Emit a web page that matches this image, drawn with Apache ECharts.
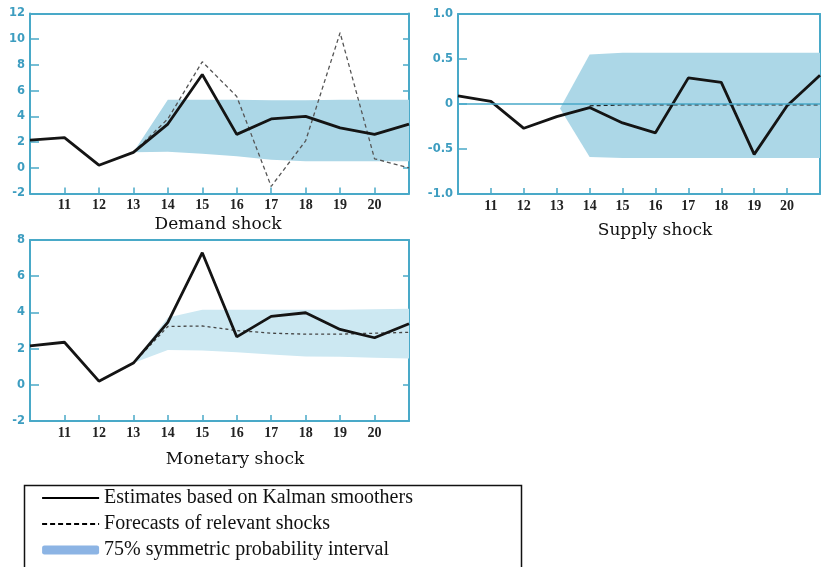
<!DOCTYPE html>
<html>
<head>
<meta charset="utf-8">
<script src="https://cdn.jsdelivr.net/npm/echarts@6/dist/echarts.min.js"></script>
<style>html,body{margin:0;padding:0;background:#fff}#c{width:823px;height:567px}</style>
</head>
<body>
<div id="c"></div>
<script>
// ---- data ----
const periods = [10, 11, 12, 13, 14, 15, 16, 17, 18, 19, 20, 21];
const xTickLabels = ['11', '12', '13', '14', '15', '16', '17', '18', '19', '20'];

const demandEstimate = [2.15, 2.35, 0.2, 1.2, 3.4, 7.25, 2.6, 3.8, 4.0, 3.1, 2.6, 3.4];
const demandForecastX = [13, 14, 15, 16, 17, 18, 19, 20, 21];
const demandForecast = [1.2, 3.8, 8.25, 5.55, -1.45, 2.1, 10.5, 0.7, 0.0];
const demandBandX = [13, 14, 15, 16, 17, 18, 19, 20, 21];
const demandBandLow = [1.2, 1.25, 1.1, 0.9, 0.62, 0.5, 0.5, 0.5, 0.5];
const demandBandHigh = [1.2, 5.3, 5.3, 5.3, 5.25, 5.25, 5.3, 5.3, 5.3];

const supplyEstimate = [0.09, 0.03, -0.27, -0.14, -0.04, -0.21, -0.32, 0.29, 0.24, -0.56, -0.02, 0.32];
const supplyForecastX = [14, 15, 16, 17, 18, 19, 20, 21];
const supplyForecast = [-0.02, -0.01, -0.01, -0.01, -0.01, -0.01, -0.01, -0.01];
const supplyBandX = [13.1, 14, 15, 16, 17, 18, 19, 20, 21];
const supplyBandLow = [-0.05, -0.59, -0.6, -0.6, -0.6, -0.6, -0.6, -0.6, -0.6];
const supplyBandHigh = [-0.05, 0.55, 0.57, 0.57, 0.57, 0.57, 0.57, 0.57, 0.57];

const monetaryEstimate = [2.15, 2.35, 0.2, 1.2, 3.45, 7.3, 2.65, 3.78, 3.98, 3.06, 2.6, 3.37];
const monetaryForecastX = [13, 14, 15, 16, 17, 18, 19, 20, 21];
const monetaryForecast = [1.2, 3.22, 3.25, 3.0, 2.85, 2.8, 2.8, 2.85, 2.9];
const monetaryBandX = [13, 14, 15, 16, 17, 18, 19, 20, 21];
const monetaryBandLow = [1.2, 1.92, 1.9, 1.8, 1.68, 1.57, 1.55, 1.5, 1.45];
const monetaryBandHigh = [1.2, 3.72, 4.15, 4.15, 4.15, 4.15, 4.15, 4.18, 4.2];

const panelTitles = ['Demand shock', 'Supply shock', 'Monetary shock'];
const legendNames = ['Estimates based on Kalman smoothers', 'Forecasts of relevant shocks', '75% symmetric probability interval'];

// ---- styling ----
const AX = '#49a9c8';
const pairs = (xs, ys) => xs.map((x, i) => [x, ys[i]]);

function xAxes(gi) {
  return [
    {
      gridIndex: gi, type: 'value', min: 10, max: 21, interval: 1, position: 'bottom',
      axisLine: { onZero: false, lineStyle: { color: AX, width: 2 } },
      axisTick: { inside: true, length: 6, lineStyle: { color: AX, width: 1.5 } },
      axisLabel: {
        margin: 5, color: '#222', fontFamily: 'Liberation Serif', fontSize: 14, fontWeight: 'bold',
        formatter: v => xTickLabels.indexOf(String(v)) >= 0 ? String(v) : ''
      },
      splitLine: { show: false }
    },
    {
      gridIndex: gi, type: 'value', min: 10, max: 21, interval: 1, position: 'top',
      axisLine: { onZero: false, lineStyle: { color: AX, width: 2 } },
      axisTick: { show: false }, axisLabel: { show: false }, splitLine: { show: false }
    }
  ];
}
function yAxes(gi, min, max, interval, fmt) {
  return [
    {
      gridIndex: gi, type: 'value', min, max, interval, position: 'left',
      axisLine: { show: true, onZero: false, lineStyle: { color: AX, width: 2 } },
      axisTick: { show: true, inside: true, length: 9, lineStyle: { color: AX, width: 1.5 } },
      axisLabel: { margin: 5, color: '#3d9dc0', fontFamily: 'DejaVu Sans', fontSize: 11.5, fontWeight: 'bold', formatter: fmt },
      splitLine: { show: false }
    },
    {
      gridIndex: gi, type: 'value', min, max, interval, position: 'right',
      axisLine: { show: true, onZero: false, lineStyle: { color: AX, width: 2 } },
      axisTick: { show: true, inside: true, length: 6, lineStyle: { color: AX, width: 1.5 } },
      axisLabel: { show: false }, splitLine: { show: false }
    }
  ];
}

function bandRender(color) {
  return function (params, api) {
    if (params.dataIndex !== 0) return null;
    const n = params.dataInsideLength;
    const pts = [];
    for (let i = 0; i < n; i++) pts.push(api.coord([api.value(0, i), api.value(2, i)]));
    for (let i = n - 1; i >= 0; i--) pts.push(api.coord([api.value(0, i), api.value(1, i)]));
    return { type: 'polygon', shape: { points: pts }, style: { fill: color, stroke: null } };
  };
}

function panelSeries(gi, est, fx, fc, bx, lo, hi, bandColor, fcStyle, zeroLine) {
  const xi = gi * 2, yi = gi * 2;
  const s = [
    {
      name: legendNames[2], type: 'custom', xAxisIndex: xi, yAxisIndex: yi,
      data: bx.map((x, i) => [x, lo[i], hi[i]]),
      encode: { x: 0, y: [1, 2] },
      renderItem: bandRender(bandColor),
      itemStyle: { color: bandColor }, silent: true, clip: true, z: 1
    },
    {
      name: legendNames[1], type: 'line', xAxisIndex: xi, yAxisIndex: yi,
      data: pairs(fx, fc), symbol: 'none', lineStyle: fcStyle, itemStyle: { color: '#000' }, z: 3
    },
    {
      name: legendNames[0], type: 'line', xAxisIndex: xi, yAxisIndex: yi,
      data: pairs(periods, est), symbol: 'none',
      lineStyle: { color: '#141414', width: 2.8 }, itemStyle: { color: '#000' }, z: 4
    }
  ];
  if (zeroLine) {
    s.push({
      type: 'line', xAxisIndex: xi, yAxisIndex: yi, data: [], symbol: 'none', silent: true, z: 2,
      markLine: {
        silent: true, symbol: 'none', label: { show: false },
        lineStyle: { color: AX, width: 1.5, type: 'solid' },
        data: [{ yAxis: 0 }]
      }
    });
  }
  return s;
}

const chart = echarts.init(document.getElementById('c'), null, { renderer: 'canvas' });
chart.setOption({
  animation: false,
  backgroundColor: '#fff',
  grid: [
    { left: 30, top: 13.5, width: 379, height: 180 },
    { left: 458, top: 14, right: -12, height: 180 },
    { left: 30, top: 240, width: 379, height: 181 }
  ],
  xAxis: [...xAxes(0), ...xAxes(1), ...xAxes(2)],
  yAxis: [
    ...yAxes(0, -2, 12, 2, v => String(v)),
    ...yAxes(1, -1, 1, 0.5, v => (v === 0 ? '0' : v.toFixed(1))),
    ...yAxes(2, -2, 8, 2, v => String(v))
  ],
  title: [
    { text: panelTitles[0], left: 213, top: 211, textAlign: 'center',
      textStyle: { fontFamily: 'DejaVu Serif', fontSize: 17, fontWeight: 'normal', color: '#111' } },
    { text: panelTitles[1], left: 650, top: 217, textAlign: 'center',
      textStyle: { fontFamily: 'DejaVu Serif', fontSize: 17, fontWeight: 'normal', color: '#111' } },
    { text: panelTitles[2], left: 230, top: 446, textAlign: 'center',
      textStyle: { fontFamily: 'DejaVu Serif', fontSize: 17, fontWeight: 'normal', color: '#111' } }
  ],
  legend: {
    orient: 'vertical', left: 41, top: 487, padding: 0,
    itemWidth: 57, itemHeight: 9, itemGap: 4,
    selectedMode: false,
    textStyle: { fontFamily: 'Liberation Serif', fontSize: 20, color: '#111', lineHeight: 22 },
    data: [
      { name: legendNames[0], itemStyle: { opacity: 0 }, lineStyle: { color: '#000', width: 2.2, type: 'solid' } },
      { name: legendNames[1], itemStyle: { opacity: 0 }, lineStyle: { color: '#000', width: 2.2, type: [5, 3] } },
      { name: legendNames[2], icon: 'roundRect', itemStyle: { color: '#8cb4e4', opacity: 1 } }
    ]
  },
  graphic: [
    { type: 'rect', left: 22, top: 483, shape: { width: 497, height: 100 },
      style: { fill: 'none', stroke: '#111', lineWidth: 1.5 }, silent: true }
  ],
  series: [
    ...panelSeries(0, demandEstimate, demandForecastX, demandForecast, demandBandX, demandBandLow, demandBandHigh,
      '#acd7e7', { color: '#555', width: 1.3, type: [4, 3] }, false),
    ...panelSeries(1, supplyEstimate, supplyForecastX, supplyForecast, supplyBandX, supplyBandLow, supplyBandHigh,
      '#acd7e7', { color: '#222', width: 1.3, type: [4, 3] }, true),
    ...panelSeries(2, monetaryEstimate, monetaryForecastX, monetaryForecast, monetaryBandX, monetaryBandLow, monetaryBandHigh,
      '#cce8f2', { color: '#444', width: 1.3, type: [3, 3] }, false)
  ]
});
</script>
</body>
</html>
